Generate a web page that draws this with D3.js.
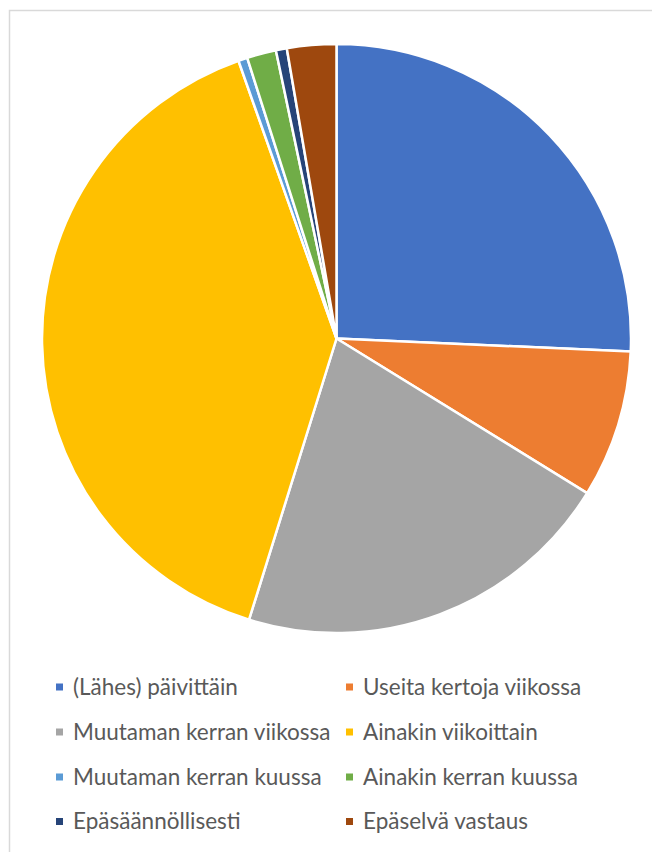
<!DOCTYPE html>
<html>
<head>
<meta charset="utf-8">
<script src="https://cdn.jsdelivr.net/npm/d3@7"></script>
<style>
  html, body { margin: 0; padding: 0; background: #fff; }
  svg { display: block; }
</style>
</head>
<body>
<svg id="chart" width="652" height="852"></svg>
<script>
const categories = [
  "(Lähes) päivittäin",
  "Useita kertoja viikossa",
  "Muutaman kerran viikossa",
  "Ainakin viikoittain",
  "Muutaman kerran kuussa",
  "Ainakin kerran kuussa",
  "Epäsäännöllisesti",
  "Epäselvä vastaus"
];
const values = [25.7, 8.1, 21.0, 39.8, 0.5, 1.6, 0.6, 2.7];
const colors = ["#4472C4", "#ED7D31", "#A5A5A5", "#FFC000", "#5B9BD5", "#70AD47", "#264478", "#9E480E"];

const svg = d3.select("#chart");

// chart area border
svg.append("rect")
  .attr("x", 9.5).attr("y", 10.5)
  .attr("width", 700).attr("height", 900)
  .attr("fill", "none")
  .attr("stroke", "#D9D9D9")
  .attr("stroke-width", 1.5);

const cx = 336.5, cy = 338.5, r = 294.5;

const data = categories.map((c, i) => ({ name: c, value: values[i], color: colors[i] }));
const pie = d3.pie().value(d => d.value).sort(null);
const arc = d3.arc().innerRadius(0).outerRadius(r);

svg.append("g")
  .attr("transform", `translate(${cx},${cy})`)
  .selectAll("path")
  .data(pie(data))
  .join("path")
  .attr("d", arc)
  .attr("fill", d => d.data.color)
  .attr("stroke", "#fff")
  .attr("stroke-width", 2.5)
  .attr("stroke-linejoin", "round");

// legend
const colX = [56, 346];
const textOffset = 17;
const rowY = [687, 732, 777, 821.5];

const leg = svg.append("g")
  .attr("font-family", "Lato, 'Liberation Sans', sans-serif")
  .attr("font-size", 22.5)
  .attr("fill", "#595959");

data.forEach((d, i) => {
  const x = colX[i % 2];
  const y = rowY[Math.floor(i / 2)];
  leg.append("rect")
    .attr("x", x).attr("y", y - 3.5)
    .attr("width", 7).attr("height", 7)
    .attr("fill", d.color);
  leg.append("text")
    .attr("x", x + textOffset)
    .attr("y", y)
    .attr("dy", "0.35em")
    .text(d.name);
});
</script>
</body>
</html>
